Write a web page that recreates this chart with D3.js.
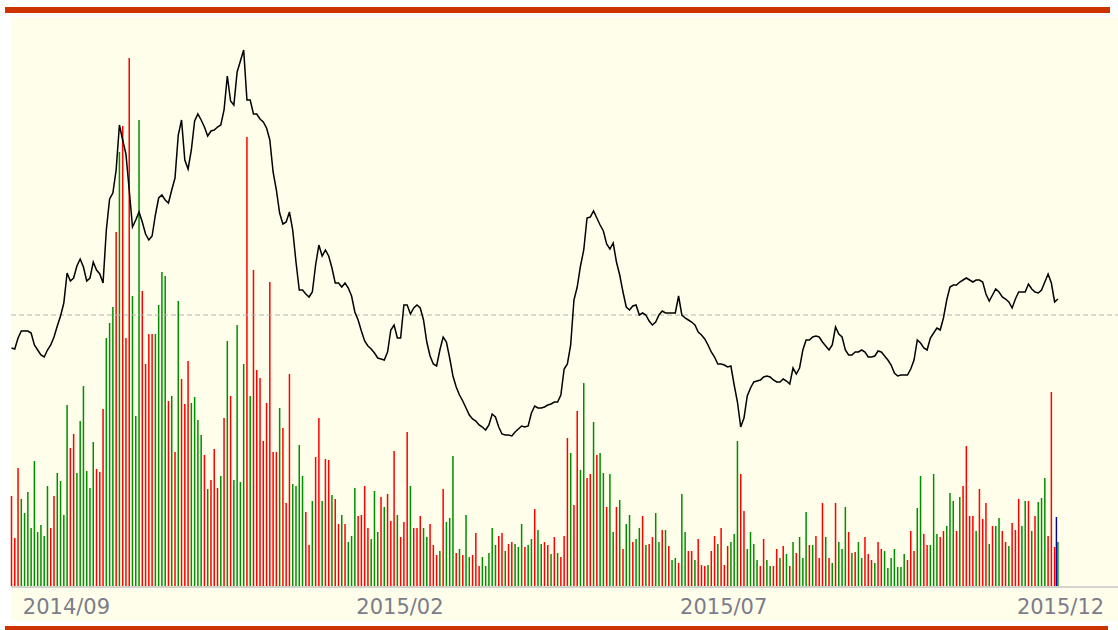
<!DOCTYPE html>
<html>
<head>
<meta charset="utf-8">
<script src="https://cdn.jsdelivr.net/npm/d3@7"></script>
<style>
  body { margin: 0; background: #ffffff; }
  svg { display: block; }
</style>
</head>
<body>
<div id="chart"></div>
<script>
// daily close, one per trading day
var price = [
  25.2, 25.1, 26.2, 26.9, 26.9, 26.9, 26.7, 25.5, 25.0, 24.5, 24.3, 25.0, 25.5, 26.3, 27.4, 28.4, 29.7, 32.7, 31.9, 32.2,
  33.4, 34.1, 33.3, 31.9, 32.2, 33.8, 33.0, 32.6, 31.7, 37.0, 40.1, 40.7, 43.0, 47.5, 46.0, 44.6, 41.0, 37.3, 38.0, 38.8,
  37.8, 36.6, 36.0, 36.4, 38.5, 40.2, 40.5, 40.0, 39.7, 41.0, 42.2, 46.5, 48.0, 44.0, 43.1, 45.0, 47.9, 48.6, 48.0, 47.3,
  46.4, 46.9, 47.0, 47.3, 47.5, 49.0, 52.4, 49.9, 49.5, 52.8, 53.9, 55.0, 50.0, 50.0, 48.6, 48.6, 48.1, 47.8, 47.2, 46.0,
  42.8, 41.0, 38.7, 37.6, 37.8, 38.8, 37.0, 33.8, 31.0, 31.0, 30.6, 30.3, 30.8, 33.5, 35.5, 34.4, 35.0, 34.4, 33.2, 31.7,
  31.7, 31.3, 31.7, 31.2, 30.4, 28.8, 28.0, 26.9, 25.9, 25.4, 25.1, 24.7, 24.2, 24.1, 24.0, 24.8, 27.0, 27.5, 26.2, 26.2,
  29.5, 29.5, 28.6, 29.2, 29.5, 29.2, 28.0, 25.8, 24.4, 23.6, 23.4, 25.0, 26.3, 25.8, 24.2, 22.4, 21.3, 20.5, 19.9, 19.2,
  18.5, 18.1, 17.9, 17.5, 17.3, 17.0, 17.5, 18.6, 18.3, 17.3, 16.6, 16.5, 16.5, 16.4, 16.8, 17.1, 17.4, 17.3, 17.4, 18.7,
  19.4, 19.2, 19.2, 19.3, 19.5, 19.6, 19.8, 19.8, 20.5, 23.1, 23.6, 25.5, 30.0, 31.3, 33.4, 35.0, 38.2, 38.3, 38.9, 38.2,
  37.5, 36.9, 35.6, 35.1, 35.7, 33.8, 32.5, 30.8, 29.3, 29.0, 29.4, 29.5, 28.5, 28.7, 28.5, 27.9, 27.5, 27.8, 28.5, 28.9,
  28.7, 28.7, 28.7, 28.7, 30.4, 28.5, 28.2, 28.0, 27.8, 27.5, 26.8, 26.5, 26.1, 25.5, 24.8, 24.3, 23.6, 23.6, 23.5, 23.3,
  23.4, 21.5, 19.8, 17.3, 18.2, 20.4, 21.2, 21.8, 21.9, 22.0, 22.3, 22.4, 22.3, 22.0, 21.8, 21.8, 22.1, 21.9, 21.6, 23.2,
  22.6, 23.2, 25.0, 26.0, 26.0, 26.3, 26.4, 26.3, 25.8, 25.4, 25.0, 25.5, 27.3, 26.6, 26.3, 25.0, 24.5, 24.5, 24.8, 24.8,
  25.0, 24.8, 24.3, 24.3, 24.4, 24.9, 24.8, 24.4, 24.0, 23.5, 22.7, 22.4, 22.5, 22.5, 22.5, 23.1, 24.0, 26.0, 25.7, 25.2,
  25.0, 26.2, 26.7, 27.2, 27.0, 28.2, 30.0, 31.3, 31.5, 31.5, 31.8, 32.0, 32.2, 32.0, 31.8, 32.0, 32.0, 31.8, 30.6, 29.9,
  30.5, 31.1, 30.8, 30.3, 30.1, 29.8, 29.2, 30.1, 30.8, 30.8, 30.8, 31.6, 31.1, 30.8, 30.7, 31.0, 31.8, 32.6, 31.7, 29.8,
  30.1
];

// daily volume
var volume = [
  90, 48, 118, 87, 73, 94, 58, 125, 54, 61, 50, 100, 58, 90, 113, 105, 71, 181, 138, 152,
  113, 165, 200, 115, 98, 144, 117, 114, 177, 248, 263, 279, 354, 434, 460, 248, 528, 290, 170, 466,
  295, 222, 252, 252, 252, 281, 314, 310, 185, 190, 134, 285, 207, 182, 225, 183, 189, 166, 151, 131,
  97, 106, 137, 98, 110, 168, 245, 190, 106, 261, 104, 222, 449, 190, 316, 216, 208, 145, 183, 304,
  134, 134, 178, 158, 83, 212, 102, 100, 141, 110, 74, 41, 85, 129, 168, 85, 127, 126, 91, 87,
  62, 71, 62, 44, 50, 98, 70, 71, 100, 58, 47, 95, 54, 89, 79, 92, 65, 135, 71, 49,
  64, 154, 100, 58, 58, 70, 58, 49, 62, 41, 31, 35, 97, 64, 68, 130, 33, 37, 31, 71,
  29, 31, 53, 20, 29, 20, 33, 58, 41, 50, 53, 35, 42, 44, 42, 39, 62, 39, 41, 47,
  77, 56, 42, 44, 41, 32, 49, 33, 29, 50, 148, 133, 81, 175, 116, 203, 108, 112, 164, 131,
  133, 113, 79, 112, 54, 79, 86, 37, 62, 71, 44, 47, 58, 70, 41, 42, 49, 73, 44, 56,
  56, 40, 26, 28, 23, 92, 54, 35, 35, 26, 47, 21, 20, 21, 35, 50, 42, 58, 21, 40,
  44, 52, 145, 112, 75, 37, 54, 42, 26, 20, 47, 26, 20, 20, 37, 28, 40, 32, 20, 44,
  33, 49, 28, 74, 41, 41, 50, 28, 83, 49, 28, 23, 83, 44, 37, 79, 54, 33, 34, 44,
  28, 49, 32, 26, 23, 44, 37, 35, 18, 28, 37, 19, 19, 32, 26, 55, 35, 78, 110, 52,
  41, 41, 112, 52, 49, 55, 60, 93, 85, 55, 89, 100, 140, 70, 70, 55, 97, 67, 83, 42,
  60, 60, 68, 55, 44, 40, 63, 56, 87, 60, 85, 85, 55, 70, 84, 88, 108, 50, 194, 39,
  44
];

// 1 = up day (red), 0 = down day (green)
var rise = [
  1,1,1,0,0,0,0,0,0,0, 0,0,1,1,0,0,0,0,1,1,
  0,0,0,0,0,0,1,1,1,0, 0,0,1,0,1,1,1,0,0,0,
  1,1,1,1,0,0,0,0,1,0, 1,0,1,1,1,0,0,0,0,1,
  0,1,1,1,0,1,0,1,0,0, 0,0,1,0,1,1,1,1,1,1,
  1,1,0,1,1,1,0,0,0,0, 1,1,0,1,1,0,1,1,0,1,
  1,0,1,0,0,0,1,1,1,1, 0,0,0,1,0,1,1,1,0,1,
  1,1,0,1,1,1,0,0,1,1, 1,0,1,0,0,0,1,0,1,0,
  0,1,1,1,0,0,0,0,0,1, 1,0,1,1,0,0,0,1,0,0,
  1,0,0,1,1,0,1,0,1,1, 1,0,1,1,0,0,1,1,0,1,
  0,0,1,0,0,1,0,1,0,0, 1,0,0,1,0,1,1,0,0,1,
  0,1,0,0,1,0,0,1,1,0, 1,1,1,0,1,1,0,1,1,1,
  0,0,0,1,1,0,0,0,0,1, 1,0,0,1,1,0,1,0,1,0,
  1,0,0,0,1,0,1,1,1,0, 1,0,1,0,0,0,1,0,1,0,
  0,1,1,1,0,1,1,0,0,0, 0,0,0,0,1,1,1,0,0,1,
  1,0,0,0,1,1,0,0,0,1, 0,1,1,1,1,0,1,1,1,0,
  1,0,0,1,1,0,1,1,1,0, 0,1,0,1,0,0,0,1,1,1,
  0
];

var refPrice = 28.5;       // dashed reference level
var lastVolMark = 69;      // blue marker on the latest bar

var tickIndex  = [3, 105, 204, 307];
var tickLabels = ["2014/09", "2015/02", "2015/07", "2015/12"];

var W = 1118, H = 630;

var svg = d3.select("#chart").append("svg")
    .attr("width", W)
    .attr("height", H);

// frame: red rules top and bottom, cream plot panel
svg.append("rect")
    .attr("x", 5).attr("y", 7)
    .attr("width", 1105).attr("height", 6)
    .attr("fill", "#cc3300");

svg.append("rect")
    .attr("x", 11).attr("y", 17)
    .attr("width", W - 11).attr("height", 604)
    .attr("fill", "#fffeea");

svg.append("rect")
    .attr("x", 5).attr("y", 626)
    .attr("width", 1103).attr("height", 6)
    .attr("fill", "#cc3300");

// scales
var x = d3.scaleLinear()
    .domain([0, price.length - 1])
    .range([11.5, 1057.9]);

var yP = d3.scaleLinear()
    .domain([15, 55])
    .range([450, 50]);

var yV = d3.scaleLinear()
    .domain([0, 540])
    .range([586, 46]);

// volume bars
svg.append("g").selectAll("rect")
    .data(volume)
    .enter().append("rect")
    .attr("x", function(d, i) { return x(i) - 0.75; })
    .attr("y", function(d) { return yV(d); })
    .attr("width", 1.5)
    .attr("height", function(d) { return yV(0) - yV(d); })
    .attr("fill", function(d, i) { return rise[i] ? "#ff0000" : "#008f00"; });

// marker on the latest bar
var last = volume.length - 1;
svg.append("rect")
    .attr("x", x(last) - 2.2)
    .attr("y", yV(lastVolMark))
    .attr("width", 1.4)
    .attr("height", yV(0) - yV(lastVolMark))
    .attr("fill", "#0000aa");

// dashed reference line
svg.append("line")
    .attr("x1", 11).attr("x2", W)
    .attr("y1", yP(refPrice)).attr("y2", yP(refPrice))
    .attr("stroke", "#b4b4b4")
    .attr("stroke-width", 1.2)
    .attr("stroke-dasharray", "5,3");

// price line
var line = d3.line()
    .x(function(d, i) { return x(i); })
    .y(function(d) { return yP(d); });

svg.append("path")
    .datum(price)
    .attr("d", line)
    .attr("fill", "none")
    .attr("stroke", "#000000")
    .attr("stroke-width", 1.5)
    .attr("stroke-linejoin", "miter");

// x axis
svg.append("line")
    .attr("x1", 11).attr("x2", W)
    .attr("y1", 587).attr("y2", 587)
    .attr("stroke", "#c4c4c4")
    .attr("stroke-width", 1.5);

var xAxis = d3.axisBottom(x)
    .tickValues(tickIndex)
    .tickFormat(function(d, i) { return tickLabels[i]; })
    .tickSize(0);

var gx = svg.append("g")
    .attr("transform", "translate(0,586)")
    .call(xAxis);

gx.select(".domain").remove();
gx.selectAll("text")
    .attr("y", 28)
    .attr("dy", 0)
    .attr("dx", 1)
    .attr("text-anchor", "start")
    .attr("fill", "#7c7c8a")
    .style("font-family", "'DejaVu Sans', Verdana, sans-serif")
    .style("font-size", "21px");
</script>
</body>
</html>
